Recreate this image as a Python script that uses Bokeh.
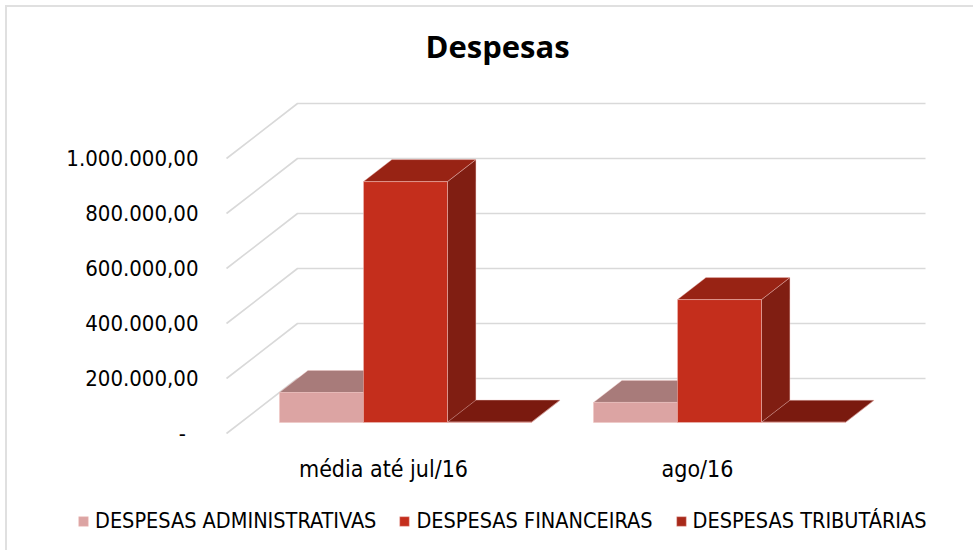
import numpy as np
from bokeh.plotting import figure
from bokeh.models import Range1d, FixedTicker, Legend, LegendItem, Title, ColumnDataSource
from bokeh.core.properties import value
from bokeh.embed import file_html
from bokeh.resources import INLINE

# ---------------- data ----------------
title_text = "Despesas"
categories = ["média até jul/16", "ago/16"]
series_names = ["DESPESAS ADMINISTRATIVAS", "DESPESAS FINANCEIRAS", "DESPESAS TRIBUTÁRIAS"]
despesas_administrativas = [109000, 73000]
despesas_financeiras = [876000, 447000]
despesas_tributarias = [1500, 1200]
y_ticks = [0, 200000, 400000, 600000, 800000, 1000000]
y_tick_labels = ["-\u00a0\u00a0", "200.000,00", "400.000,00", "600.000,00", "800.000,00", "1.000.000,00"]

series_values = [despesas_administrativas, despesas_financeiras, despesas_tributarias]

# ---------------- style ----------------
front_colors = ["#dca4a3", "#c42e1c", "#a8291a"]
top_colors = ["#a87b7a", "#982314", "#7a1a0f"]
side_colors = ["#8f6463", "#801e12", "#6a160c"]
edge_color = "#f0c4c0"
grid_color = "#d9d9d9"
FONT = "DejaVu Sans Condensed"
TITLE_FONT = "Open Sans"

W, H = 968, 545
FRAME_L, FRAME_R, FRAME_T = 60, 933, 78   # plot frame in figure pixels
ORIGIN_PX = 219              # figure column of the front-left floor corner
PX_PER_CAT = 314.0
VPP = 200000 / 55.0          # value units per pixel
ZERO_PX = 426                # pixel row of front zero line (figure coords)
DEPTH_X = 71 / PX_PER_CAT    # full depth shift, category units
DEPTH_Y = 55 * VPP           # full depth shift, value units
F0, F1 = 0.2, 0.6            # bar depth (front/back) fractions
BAR_START = 0.1236
BAR_W = 84 / PX_PER_CAT
LABEL_RIGHT_PX = 191         # right edge of tick labels (figure px)

x_start = -(ORIGIN_PX - FRAME_L) / PX_PER_CAT
x_end = (FRAME_R - ORIGIN_PX) / PX_PER_CAT
y_end = (ZERO_PX - FRAME_T) * VPP
y_start = -(H - ZERO_PX) * VPP

p = figure(width=W, height=H, output_backend="svg", toolbar_location=None,
           x_range=Range1d(x_start, x_end), y_range=Range1d(y_start, y_end),
           x_axis_location=None, title=None,
           min_border_left=FRAME_L, min_border_right=W - FRAME_R,
           min_border_top=FRAME_T, min_border_bottom=0)
p.outline_line_color = None
p.grid.visible = False
p.background_fill_color = "white"
p.border_fill_color = "white"
p.styles = {"margin-left": "5px", "margin-top": "5px",
            "border-left": "2px solid #e0e0e0", "border-top": "2px solid #e0e0e0"}

# ---- title ----
p.add_layout(Title(text=title_text, align="left", offset=358, text_font=TITLE_FONT,
                   text_font_size="31px", text_font_style="bold", text_color="black",
                   vertical_align="top", standoff=34), "above")

# ---- y axis (labels sit left of the 3D floor corner) ----
ax = p.yaxis[0]
ax.ticker = FixedTicker(ticks=y_ticks)
ax.major_label_overrides = {t: lab for t, lab in zip(y_ticks, y_tick_labels)}
ax.major_tick_in = 0
ax.major_tick_out = 0
ax.minor_tick_in = 0
ax.minor_tick_out = 0
ax.axis_line_color = None
ax.major_label_standoff = -(LABEL_RIGHT_PX - FRAME_L)
ax.major_label_text_font = FONT
ax.major_label_text_font_size = "22px"
ax.major_label_text_color = "black"

# ---- 3D gridlines: side-wall diagonal + back wall horizontal ----
yt = np.array(y_ticks, dtype=float)
gx = [[0, DEPTH_X, 2 + DEPTH_X] for _ in y_ticks]
gy = [[v, v + DEPTH_Y, v + DEPTH_Y] for v in yt]
p.multi_line(xs=gx, ys=gy, line_color=grid_color, line_width=1.6)

# ---- bars ----
ncat = len(categories)
ddx = (F1 - F0) * DEPTH_X
ddy = (F1 - F0) * DEPTH_Y
front_r = []
geo = []
for k, vals in enumerate(series_values):
    v = np.array(vals, dtype=float)
    x0 = np.arange(ncat) + BAR_START + k * BAR_W + F0 * DEPTH_X
    x1 = x0 + BAR_W
    yb = np.full(ncat, F0 * DEPTH_Y)
    ytp = v + F0 * DEPTH_Y
    geo.append((x0, x1, yb, ytp))

for k, (x0, x1, yb, ytp) in enumerate(geo):
    xs = [[a, a + ddx, a + ddx, a] for a in x1]
    ys = [[b, b + ddy, t + ddy, t] for b, t in zip(yb, ytp)]
    p.patches(xs=xs, ys=ys, fill_color=side_colors[k], line_color=edge_color,
              line_alpha=0.5, line_width=0.8)
for k, (x0, x1, yb, ytp) in enumerate(geo):
    xs = [[a, b, b + ddx, a + ddx] for a, b in zip(x0, x1)]
    ys = [[t, t, t + ddy, t + ddy] for t in ytp]
    p.patches(xs=xs, ys=ys, fill_color=top_colors[k], line_color=edge_color,
              line_alpha=0.5, line_width=0.8)
for k, (x0, x1, yb, ytp) in enumerate(geo):
    src = ColumnDataSource(dict(left=x0, right=x1, bottom=yb, top=ytp))
    r = p.quad(left="left", right="right", bottom="bottom", top="top", source=src,
               fill_color=front_colors[k], line_color=edge_color, line_alpha=0.6,
               line_width=0.8)
    front_r.append(r)

# ---- category labels ----
lab_y = -(468 - 433) * VPP
p.text(x=np.arange(ncat) + 0.5, y=np.full(ncat, lab_y), text=categories,
       text_font=value(FONT), text_font_size="23px", text_color="black",
       text_align="center", text_baseline="middle")

# ---- legend ----
legend = Legend(items=[LegendItem(label=n, renderers=[front_r[k]]) for k, n in enumerate(series_names)],
                orientation="horizontal", location=(10, 19),
                glyph_width=12, glyph_height=12, label_standoff=6, spacing=22,
                padding=0, margin=0, border_line_color=None, background_fill_alpha=0,
                label_text_font=FONT, label_text_font_size="21.5px", label_text_color="black")
p.add_layout(legend, "center")

open("out.html", "w").write(file_html(p, INLINE))
